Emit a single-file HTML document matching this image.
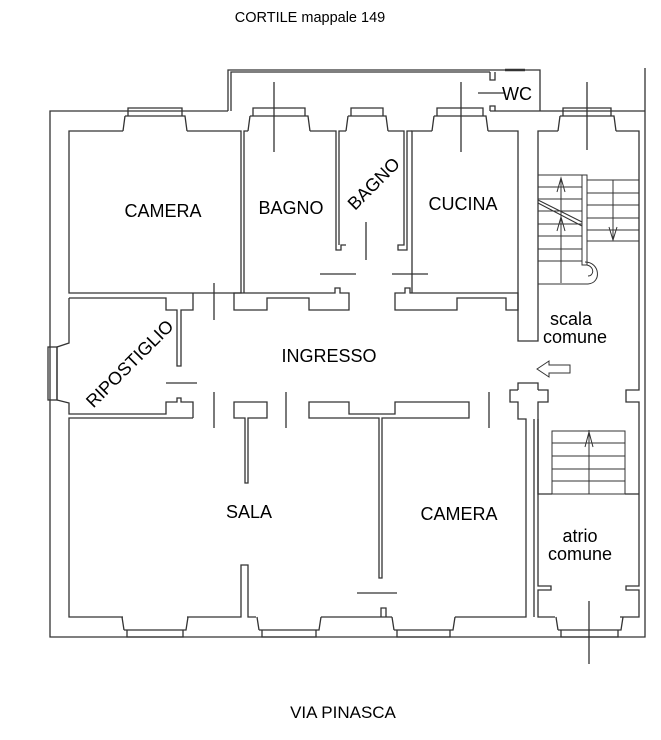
<!DOCTYPE html>
<html><head><meta charset="utf-8"><style>
html,body{margin:0;padding:0;background:#fff;}
svg{display:block;}
text{font-family:"Liberation Sans",Arial,sans-serif;fill:#000;}
</style></head><body>
<svg width="661" height="740" viewBox="0 0 661 740" xmlns="http://www.w3.org/2000/svg">
<g fill="none" stroke="#333" stroke-width="1.3">
<polyline points="228,111 50,111 50,637 645,637 645,68"/>
<polyline points="540,111 645,111"/>
<polyline points="228,111 228,70 540,70 540,111"/>
<polyline points="231,111 231,72 490,72"/>
<line x1="490" y1="111" x2="540" y2="111"/>
<polyline points="490,72 490,80 495,80 495,72"/>
<line x1="505" y1="70" x2="525" y2="70" stroke-width="2.5"/>
<polyline points="490,111 490,106 495,106 495,111"/>
<line x1="478" y1="93" x2="504" y2="93"/>
<g>
<path d="M128,108 H182 V116 H128 Z M125,116 H185 L187,131 M125,116 L123,131"/>
<path d="M253,108 H305 V116 H253 Z M250,116 H308 L310,131 M250,116 L248,131"/>
<path d="M351,108 H383 V116 H351 Z M348,116 H386 L388,131 M348,116 L346,131"/>
<path d="M437,108 H483 V116 H437 Z M434,116 H486 L488,131 M434,116 L432,131"/>
<path d="M563,108 H611 V116 H563 Z M560,116 H614 L616,131 M560,116 L558,131"/>
</g>
<polyline points="123,131 69,131 69,293 241,293 241,131 187,131"/>
<polyline points="248,131 244,131 244,293"/>
<polyline points="310,131 336,131 336,250 341,250 341,245 346,245"/>
<polyline points="346,131 339,131 339,245"/>
<polyline points="388,131 404,131 404,245 398,245 398,250 407,250 407,131 412,131 412,131"/>
<polyline points="432,131 412,131 412,293"/>
<polyline points="488,131 518,131 518,341 538,341 538,131 558,131"/>
<polyline points="616,131 639,131 639,390 626,390 626,402 639,402 639,586 626,586 626,590 639,590 639,617 620,617"/>
<line x1="366" y1="222" x2="366" y2="260"/>
<line x1="320" y1="274" x2="356" y2="274"/>
<line x1="392" y1="274" x2="428" y2="274"/>
<line x1="274" y1="82" x2="274" y2="152"/>
<line x1="461" y1="82" x2="461" y2="152"/>
<line x1="587" y1="82" x2="587" y2="150"/>
<polygon points="234,293 335,293 335,288 340,288 340,293 349,293 349,310 309,310 309,298 267,298 267,310 234,310"/>
<polygon points="395,293 405,293 405,288 410,288 410,293 518,293 518,310 506,310 506,298 457,298 457,310 395,310"/>
<polyline points="69,298 166,298 166,310 177,310 177,366 181,366 181,310 193,310 193,293"/>
<polyline points="69,298 69,343 57,347 57,400 69,403 69,414 166,414 166,402 177,402 177,398 181,398 181,402 193,402 193,418"/>
<rect x="48" y="347" width="9" height="53"/>
<line x1="166" y1="383" x2="197" y2="383"/>
<line x1="214" y1="283" x2="214" y2="320"/>
<line x1="214" y1="392" x2="214" y2="428"/>
<line x1="286" y1="392" x2="286" y2="428"/>
<line x1="489" y1="392" x2="489" y2="428"/>
<polygon points="234,402 267,402 267,418 248,418 248,483 245,483 245,418 234,418"/>
<polygon points="309,402 349,402 349,414 395,414 395,402 469,402 469,418 382,418 382,578 379,578 379,418 309,418 309,402"/>
<polyline points="193,418 69,418 69,617 123,617"/>
<polyline points="187,617 241,617 241,565 248,565 248,617 256,617"/>
<polyline points="321,617 392,617"/>
<polyline points="381,617 381,608 386,608 386,617"/>
<line x1="357" y1="593" x2="397" y2="593"/>
<polyline points="455,617 526,617 526,419 518,419 518,402 510,402 510,390 518,390"/>
<polyline points="518,390 518,383 538,383 538,390"/>
<polyline points="538,390 548,390 548,402 538,402 538,494 552,494"/>
<polyline points="534,419 534,617"/>
<polyline points="538,419 538,586 551,586 551,590 538,590 538,617 555,617"/>
<polyline points="625,494 639,494"/>
<path d="M127,630 H183 V637 H127 Z M124,630 H186 L188,617 M124,630 L122,617"/>
<path d="M262,630 H316 V637 H262 Z M259,630 H319 L321,617 M259,630 L257,617"/>
<path d="M397,630 H450 V637 H397 Z M394,630 H453 L455,617 M394,630 L392,617"/>
<path d="M561,630 H618 V637 H561 Z M558,630 H621 L623,617 M558,630 L556,617"/>
<line x1="589" y1="601" x2="589" y2="664"/>
<g stroke-width="1">
<line x1="538" y1="175" x2="582" y2="175"/>
<line x1="538" y1="187" x2="582" y2="187"/>
<line x1="538" y1="199" x2="582" y2="199"/>
<line x1="538" y1="211" x2="582" y2="211"/>
<line x1="538" y1="224" x2="582" y2="224"/>
<line x1="538" y1="236" x2="582" y2="236"/>
<line x1="538" y1="249" x2="582" y2="249"/>
<line x1="538" y1="261" x2="582" y2="261"/>
<line x1="538" y1="284" x2="588" y2="284"/>
<line x1="587" y1="180" x2="639" y2="180"/>
<line x1="587" y1="193" x2="639" y2="193"/>
<line x1="587" y1="205" x2="639" y2="205"/>
<line x1="587" y1="218" x2="639" y2="218"/>
<line x1="587" y1="230" x2="639" y2="230"/>
<line x1="587" y1="241" x2="639" y2="241"/>
<line x1="561" y1="178" x2="561" y2="283"/>
<line x1="613" y1="180" x2="613" y2="240"/>
<polyline points="557,192 561,178 565,192"/>
<polyline points="557,231 561,217 565,231"/>
<polyline points="609,227 613,240 617,227"/>
<rect x="582" y="175" width="5" height="90"/>
<path d="M538,200 L582,222 M538,203 L582,226"/>
<path d="M585,262 C600,262 602,283 588,284 M587,265 C595,267 594,276 588,276"/>
<rect x="552" y="431" width="73" height="63"/>
<line x1="552" y1="443" x2="625" y2="443"/>
<line x1="552" y1="456" x2="625" y2="456"/>
<line x1="552" y1="469" x2="625" y2="469"/>
<line x1="552" y1="481" x2="625" y2="481"/>
<line x1="589" y1="430" x2="589" y2="494"/>
<polyline points="585,447 589,432 593,447"/>
</g>
<polygon points="537,369 549,361 549,365 570,365 570,373 549,373 549,377" stroke-width="1"/>
</g>
<g font-size="18">
<text x="310" y="22" text-anchor="middle" font-size="14.5">CORTILE mappale 149</text>
<text x="343" y="718" text-anchor="middle" font-size="17">VIA PINASCA</text>
<text x="163" y="217" text-anchor="middle">CAMERA</text>
<text x="291" y="214" text-anchor="middle">BAGNO</text>
<text x="0" y="0" text-anchor="middle" transform="translate(378,188) rotate(-45)">BAGNO</text>
<text x="463" y="210" text-anchor="middle">CUCINA</text>
<text x="571" y="325" text-anchor="middle">scala</text>
<text x="575" y="343" text-anchor="middle">comune</text>
<text x="329" y="362" text-anchor="middle">INGRESSO</text>
<text x="0" y="0" text-anchor="middle" transform="translate(134,368) rotate(-45)">RIPOSTIGLIO</text>
<text x="249" y="518" text-anchor="middle">SALA</text>
<text x="459" y="520" text-anchor="middle">CAMERA</text>
<text x="580" y="542" text-anchor="middle">atrio</text>
<text x="580" y="560" text-anchor="middle">comune</text>
<text x="517" y="100" text-anchor="middle">WC</text>
</g>
</svg>
</body></html>
